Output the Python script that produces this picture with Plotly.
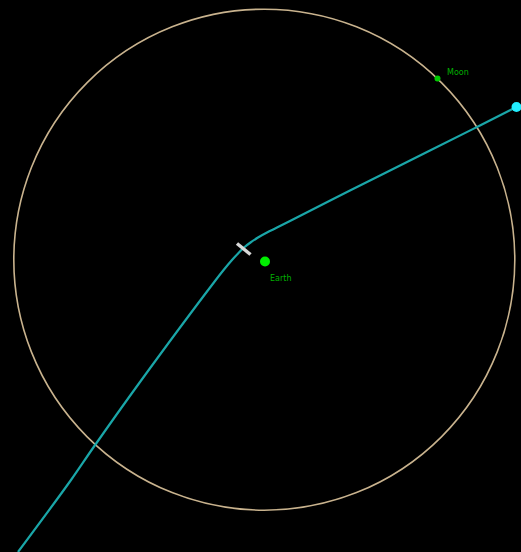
import plotly.graph_objects as go

# Coordinates (pixel-like units, y down)
path_x = [18, 71, 93, 140, 215, 224, 232, 238.5, 244, 250.5, 258, 267, 277, 290, 350, 430, 478, 516.5]
path_y = [552, 480, 448, 382, 281, 269.5, 260, 253, 247.5, 242.5, 237.5, 232.5, 227.6, 221, 190.5, 150.5, 126.5, 107]

orbit_center = (264.3, 259.7)
orbit_radius = 250.5

earth_xy = (265, 261.5)
moon_xy = (437.5, 78.5)
probe_xy = (516.5, 107)
marker_seg_x = [237, 250.5]
marker_seg_y = [243.5, 254.5]

labels = ["Earth", "Moon"]
label_x = [270, 447]
label_y = [279, 73]

fig = go.Figure()

fig.add_shape(type="circle", xref="x", yref="y",
              x0=orbit_center[0] - orbit_radius, x1=orbit_center[0] + orbit_radius,
              y0=orbit_center[1] - orbit_radius, y1=orbit_center[1] + orbit_radius,
              line=dict(color="#c9b38e", width=1.6), layer="below")

fig.add_trace(go.Scatter(x=path_x, y=path_y, mode="lines",
                         line=dict(color="#1aa6a8", width=2.2, shape="spline", smoothing=1.0),
                         hoverinfo="skip"))

fig.add_trace(go.Scatter(x=marker_seg_x, y=marker_seg_y, mode="lines",
                         line=dict(color="#d8d8d8", width=3.5), hoverinfo="skip"))

fig.add_trace(go.Scatter(x=[earth_xy[0]], y=[earth_xy[1]], mode="markers",
                         marker=dict(color="#00ee00", size=10), hoverinfo="skip"))
fig.add_trace(go.Scatter(x=[moon_xy[0]], y=[moon_xy[1]], mode="markers",
                         marker=dict(color="#00cc00", size=6), hoverinfo="skip"))
fig.add_trace(go.Scatter(x=[probe_xy[0]], y=[probe_xy[1]], mode="markers",
                         marker=dict(color="#22eeff", size=10), hoverinfo="skip"))

fig.add_trace(go.Scatter(x=label_x, y=label_y, mode="text", text=labels,
                         textposition="middle right",
                         textfont=dict(color="#00b000", size=8, family="DejaVu Sans"),
                         hoverinfo="skip"))

fig.update_layout(width=521, height=552, margin=dict(l=0, r=0, t=0, b=0),
                  paper_bgcolor="black", plot_bgcolor="black", showlegend=False)
fig.update_xaxes(range=[0, 521], visible=False, showgrid=False, zeroline=False)
fig.update_yaxes(range=[552, 0], visible=False, showgrid=False, zeroline=False)

fig.write_html("out.html", config={"displayModeBar": False},
               post_script="document.body.style.margin='0';document.body.style.background='black';document.body.style.overflow='hidden';")
